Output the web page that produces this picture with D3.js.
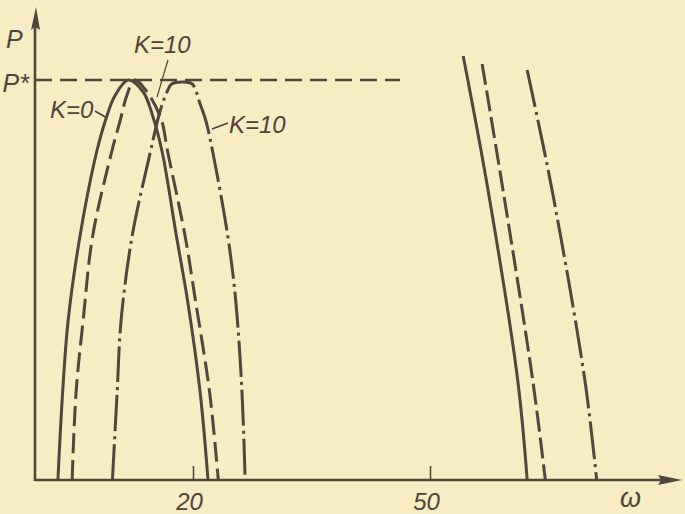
<!DOCTYPE html>
<html>
<head>
<meta charset="utf-8">
<script src="https://cdn.jsdelivr.net/npm/d3@7"></script>
<style>
  html, body { margin: 0; padding: 0; background: #f7ecc4; }
  svg { display: block; }
  text { font-family: "Liberation Sans", Arial, sans-serif; font-style: italic; fill: #4f433c; }
</style>
</head>
<body>
<svg id="chart" width="685" height="514"></svg>
<script>
// ---- data (omega, P) ----
const xTicks = [20, 50];
const xTickLabels = ["20", "50"];
const pStar = 1;
const pStarLabel = "P*";
const yAxisLabel = "P";
const xAxisLabel = "ω";

// left hump curves
const k0Solid = [[2.9,0],[3.5,0.22],[4.2,0.4],[5.7,0.61],[7.8,0.82],[9.1,0.91],[10.1,0.96],[11.8,1],[13.7,0.97],[14.9,0.91],[16.1,0.82],[17.9,0.61],[19.3,0.45],[20.9,0.22],[21.9,0]];
const midDashed = [[4.7,0],[5.2,0.22],[6.1,0.4],[7.3,0.61],[9.7,0.82],[10.8,0.9],[11.6,0.96],[12.6,1],[14.2,0.97],[16.0,0.9],[16.8,0.82],[19.0,0.61],[20.3,0.45],[22.1,0.22],[23.2,0]];
const k10DashDot = [[9.8,0],[10.4,0.22],[10.9,0.4],[12.3,0.61],[14.6,0.82],[15.8,0.92],[16.5,0.96],[17.3,0.99],[18.6,0.995],[19.9,0.99],[20.9,0.94],[21.6,0.9],[22.5,0.82],[24.4,0.61],[25.4,0.45],[26.2,0.22],[26.6,0]];
// right descending branches
const rightSolid = [[54.2,1.06],[57.3,0.73],[61.1,0.25],[62.3,0]];
const rightDashed = [[56.6,1.04],[59.2,0.73],[63.0,0.25],[64.6,0]];
const rightDashDot = [[62.3,1.025],[65.4,0.73],[69.6,0.25],[71.1,0]];

const series = [
  {pts: k0Solid, dash: null},
  {pts: midDashed, dash: "20,7"},
  {pts: k10DashDot, dash: "36,5,3,5"},
  {pts: rightSolid, dash: null},
  {pts: rightDashed, dash: "21,6"},
  {pts: rightDashDot, dash: "38,5,3,5"}
];

const ink = "#52453e";
const svg = d3.select("#chart");

const x = d3.scaleLinear().domain([0, 82]).range([35, 682.8]);
const y = d3.scaleLinear().domain([0, 1]).range([480, 80]);

// curves
const line = d3.line().x(d => x(d[0])).y(d => y(d[1])).curve(d3.curveCatmullRom.alpha(0.5));
svg.append("g").selectAll("path").data(series).join("path")
  .attr("d", d => line(d.pts))
  .attr("fill", "none")
  .attr("stroke", ink)
  .attr("stroke-width", 3)
  .attr("stroke-dasharray", d => d.dash);

// P* dashed reference line
svg.append("line")
  .attr("x1", x(0)).attr("x2", 400)
  .attr("y1", y(pStar)).attr("y2", y(pStar))
  .attr("stroke", ink).attr("stroke-width", 2.6)
  .attr("stroke-dasharray", "17,8");

// x axis (ticks pointing up)
const xAxis = d3.axisBottom(x).tickValues(xTicks)
  .tickFormat((d, i) => xTickLabels[i])
  .tickSizeInner(-14).tickSizeOuter(0).tickPadding(10);
const gx = svg.append("g").attr("transform", `translate(0,${y(0)})`).call(xAxis);
gx.select(".domain").remove();
gx.selectAll(".tick line").attr("stroke", ink).attr("stroke-width", 1.6);
gx.selectAll(".tick text").attr("font-size", 24).attr("dy", null).attr("y", 30)
  .attr("dx", -4).attr("fill", ink)
  .style("font-family", '"Liberation Sans", Arial, sans-serif');

// axis lines with arrows
svg.append("line").attr("x1", x(0)).attr("x2", 662).attr("y1", y(0)).attr("y2", y(0))
  .attr("stroke", ink).attr("stroke-width", 2.6);
svg.append("path").attr("d", `M682,${y(0)} L658,${y(0)-5} L661,${y(0)} L658,${y(0)+5} Z`).attr("fill", ink);

svg.append("line").attr("x1", x(0)).attr("x2", x(0)).attr("y1", y(0)+1).attr("y2", 26)
  .attr("stroke", ink).attr("stroke-width", 2.6);
svg.append("path").attr("d", `M${x(0)+1},7 L${x(0)-4},30 L${x(0)},27 L${x(0)+5},30 Z`).attr("fill", ink);

// y axis tick label P*
const yAxis = d3.axisLeft(y).tickValues([pStar]).tickFormat(() => pStarLabel).tickSize(0).tickPadding(6);
const gy = svg.append("g").attr("transform", `translate(${x(0)},0)`).call(yAxis);
gy.select(".domain").remove();
gy.selectAll(".tick text").attr("font-size", 25).attr("dy", "0.45em").attr("fill", ink)
  .style("font-family", '"Liberation Sans", Arial, sans-serif');

// axis titles
svg.append("text").attr("x", 6).attr("y", 48).attr("font-size", 25).text(yAxisLabel);
svg.append("text").attr("x", 620).attr("y", 507).attr("font-size", 27).text(xAxisLabel);

// annotations
svg.append("text").attr("x", 50).attr("y", 118).attr("font-size", 24).text("K=0");
svg.append("line").attr("x1", 95).attr("y1", 111).attr("x2", 107).attr("y2", 118)
  .attr("stroke", ink).attr("stroke-width", 1.8);

svg.append("text").attr("x", 134).attr("y", 53).attr("font-size", 24).text("K=10");
svg.append("line").attr("x1", 168).attr("y1", 60).attr("x2", 157).attr("y2", 97)
  .attr("stroke", ink).attr("stroke-width", 1.2);

svg.append("text").attr("x", 229).attr("y", 133).attr("font-size", 24).text("K=10");
svg.append("line").attr("x1", 212).attr("y1", 129).attr("x2", 228).attr("y2", 123)
  .attr("stroke", ink).attr("stroke-width", 1.8);
</script>
</body>
</html>
